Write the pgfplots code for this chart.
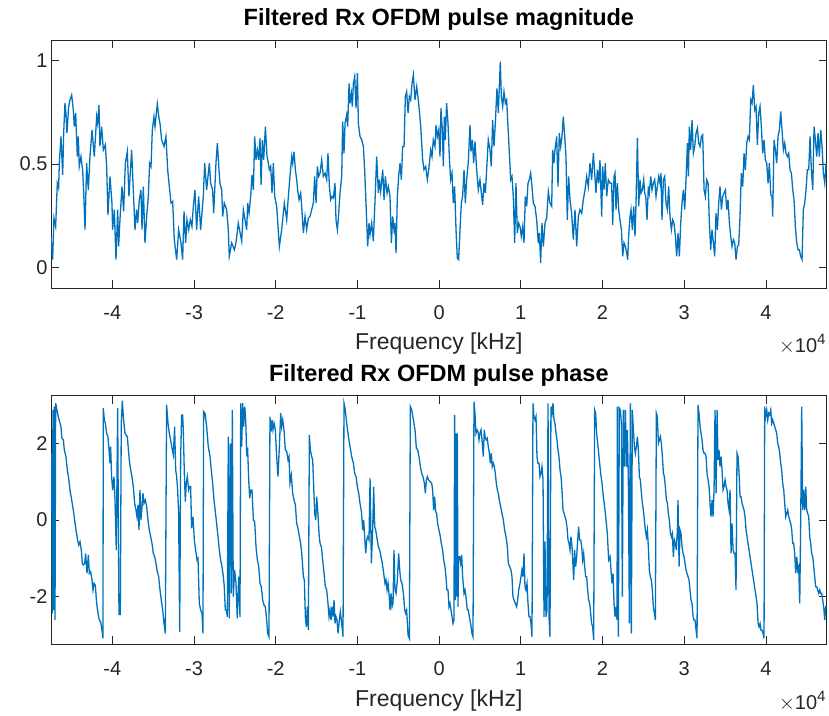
\documentclass[border=0pt]{standalone}
\usepackage{pgfplots}
\pgfplotsset{compat=1.18}
\usepackage{fontspec}
\setmainfont{Liberation Sans}
\definecolor{mblue}{RGB}{0,114,189}
\definecolor{axgray}{RGB}{38,38,38}
\begin{document}
\begin{tikzpicture}
\useasboundingbox (0,0) rectangle (829pt,715pt);
\pgfplotsset{
  mystyle/.style={
    scale only axis, width=775.7pt,
    xmin=-47500, xmax=47440,
    xtick={-40000,-30000,-20000,-10000,0,10000,20000,30000,40000},
    xticklabels={-4,-3,-2,-1,0,1,2,3,4},
    scaled x ticks=false, scaled y ticks=false,
    tick align=inside,
    major tick length=8pt,
    axis line style={axgray, line width=0.7pt},
    every tick/.style={axgray, line width=0.7pt},
    ticklabel style={font=\fontsize{20}{20}\selectfont, text=axgray},
    xticklabel style={anchor=base, yshift=-31.5pt},
    xlabel={Frequency [kHz]},
    xlabel style={font=\fontsize{23}{23}\selectfont, text=axgray, at={(rel axis cs:0.5,0)}, anchor=base, yshift=-62pt},
    title style={font=\bfseries\fontsize{23.5}{23.5}\selectfont, at={(rel axis cs:0.5,1)}, anchor=base, yshift=8.3pt},
    clip=true,
    after end axis/.code={\node[anchor=base east, text=axgray, font=\fontsize{20}{20}\selectfont, inner sep=0pt] at (rel axis cs:1,0) [yshift=-65pt, xshift=-1pt] {$\times$10\raisebox{8pt}{\fontsize{15}{15}\selectfont 4}};},
  }
}
\begin{axis}[mystyle, at={(51pt,427pt)}, anchor=south west, height=248pt,
  ymin=-0.1, ymax=1.1, ytick={0,0.5,1}, yticklabels={0,0.5,1},
  title={Filtered Rx OFDM pulse magnitude}]
\addplot[mblue, line width=1.3pt, mark=none] coordinates {
(-47500,0.150) (-47300,0.037) (-47140,0.238) (-46930,0.198) (-46730,0.407) (-46570,0.383) (-46480,0.504) (-46280,0.633) (-46070,0.448) (-45950,0.649) (-45790,0.794) (-45670,0.746) (-45550,0.649) (-45340,0.778) (-45180,0.810) (-44970,0.834) (-44770,0.762) (-44650,0.681) (-44480,0.746) (-44280,0.536) (-44160,0.633) (-44040,0.488) (-43830,0.536) (-43630,0.472) (-43510,0.375) (-43340,0.182) (-43140,0.504) (-42930,0.375) (-42730,0.536) (-42480,0.665) (-42200,0.536) (-41910,0.729) (-41790,0.697) (-41630,0.786) (-41510,0.585) (-41300,0.681) (-41100,0.568) (-40850,0.593) (-40690,0.488) (-40530,0.254) (-40280,0.440) (-40040,0.311) (-39960,0.182) (-39750,0.279) (-39550,0.037) (-39340,0.279) (-39220,0.101) (-39060,0.230) (-38810,0.391) (-38610,0.271) (-38400,0.504) (-38160,0.560) (-37960,0.343) (-37630,0.568) (-37430,0.375) (-37220,0.182) (-37020,0.279) (-36890,0.214) (-36690,0.327) (-36490,0.375) (-36360,0.182) (-36200,0.391) (-36000,0.118) (-35790,0.246) (-35590,0.343) (-35430,0.504) (-35260,0.488) (-35100,0.665) (-34900,0.729) (-34770,0.681) (-34490,0.791) (-34280,0.721) (-34160,0.697) (-33960,0.617) (-33670,0.585) (-33430,0.633) (-33220,0.472) (-33020,0.391) (-32810,0.311) (-32610,0.319) (-32410,0.134) (-32120,0.037) (-31880,0.182) (-31590,0.118) (-31390,0.037) (-31220,0.271) (-31020,0.118) (-30860,0.230) (-30650,0.182) (-30450,0.230) (-30250,0.198) (-30080,0.295) (-29880,0.375) (-29680,0.182) (-29430,0.343) (-29180,0.182) (-28860,0.343) (-28690,0.504) (-28450,0.375) (-28120,0.504) (-27960,0.407) (-27720,0.375) (-27590,0.262) (-27310,0.504) (-27140,0.601) (-26940,0.472) (-26820,0.407) (-26610,0.375) (-26490,0.246) (-26290,0.311) (-26000,0.279) (-25800,0.182) (-25680,0.053) (-25390,0.118) (-25060,0.085) (-24860,0.118) (-24580,0.214)
(-24160,0.126) (-23960,0.279) (-23750,0.230) (-23550,0.182) (-23430,0.311) (-23260,0.262) (-23060,0.343) (-22900,0.448) (-22730,0.375) (-22570,0.633) (-22410,0.520) (-22240,0.568) (-22080,0.520) (-21920,0.625) (-21790,0.399) (-21630,0.617) (-21470,0.520) (-21260,0.681) (-21060,0.536) (-20900,0.504) (-20780,0.472) (-20610,0.488) (-20450,0.359) (-20290,0.504) (-20120,0.343) (-19880,0.295) (-19550,0.101) (-19270,0.182) (-18940,0.311) (-18650,0.230) (-18450,0.343) (-18250,0.440) (-18040,0.536) (-17920,0.504) (-17760,0.560) (-17590,0.472) (-17430,0.424) (-17310,0.375) (-17140,0.327) (-16940,0.359) (-16820,0.295) (-16610,0.166) (-16410,0.246) (-16210,0.182) (-16000,0.238) (-15800,0.246) (-15590,0.279) (-15390,0.311) (-15230,0.440) (-15060,0.311) (-14900,0.488) (-14740,0.440) (-14570,0.456) (-14370,0.520) (-14170,0.440) (-13960,0.456) (-13760,0.424) (-13600,0.552) (-13430,0.391) (-13270,0.327) (-13110,0.343) (-12940,0.335) (-12740,0.407) (-12620,0.230) (-12450,0.182) (-12330,0.238) (-12130,0.359) (-11920,0.440) (-11800,0.705) (-11640,0.552) (-11510,0.697) (-11310,0.738) (-11190,0.681) (-11020,0.890) (-10900,0.794) (-10740,0.842) (-10620,0.778) (-10490,0.890) (-10330,0.923) (-10170,0.770) (-10000,0.939) (-9880,0.697) (-9680,0.633) (-9470,0.617) (-9270,0.585) (-9110,0.472) (-8860,0.222) (-8740,0.101) (-8580,0.214) (-8450,0.158) (-8250,0.214) (-8050,0.126) (-7840,0.327) (-7640,0.536) (-7430,0.359) (-7310,0.424) (-7150,0.367) (-6900,0.472) (-6740,0.327) (-6580,0.440) (-6370,0.359) (-6210,0.391) (-6010,0.343) (-5840,0.118) (-5680,0.246) (-5520,0.182) (-5400,0.214) (-5270,0.069) (-5110,0.343) (-4950,0.440) (-4780,0.504) (-4620,0.424) (-4460,0.585) (-4290,0.585) (-4130,0.826) (-3970,0.850) (-3800,0.746) (-3640,0.826) (-3480,0.810) (-3310,0.890) (-3150,0.931) (-2950,0.810) (-2740,0.874) (-2500,0.794) (-2250,0.681) (-2010,0.520) (-1850,0.472) (-1640,0.488) (-1440,0.424) (-1270,0.472)
(-1030,0.568) (-870,0.536) (-710,0.617) (-500,0.585) (-380,0.689) (-220,0.633) (-50,0.665) (110,0.536) (230,0.770) (390,0.665) (520,0.488) (640,0.729) (760,0.617) (920,0.794) (1090,0.697) (1250,0.536) (1410,0.424) (1580,0.456) (1740,0.311) (1900,0.391) (2070,0.182) (2230,0.045) (2390,0.037) (2560,0.182) (2720,0.311) (2880,0.343) (3050,0.472) (3210,0.311) (3370,0.424) (3580,0.512) (3780,0.689) (3900,0.560) (4070,0.617) (4230,0.504) (4390,0.609) (4600,0.472) (4800,0.375) (5000,0.424) (5170,0.359) (5330,0.303) (5490,0.407) (5660,0.359) (5820,0.472) (6020,0.617) (6230,0.568) (6390,0.488) (6550,0.713) (6720,0.585) (6880,0.697) (7080,0.866) (7250,0.746) (7370,0.874) (7490,0.995) (7620,0.826) (7780,0.778) (7940,0.850) (8110,0.794) (8270,0.810) (8430,0.681) (8600,0.552) (8760,0.424) (8920,0.440) (9080,0.343) (9250,0.118) (9410,0.407) (9570,0.166) (9740,0.214) (9900,0.198) (10060,0.150) (10230,0.198) (10390,0.118) (10550,0.343) (10720,0.295) (10880,0.407) (11040,0.424) (11210,0.456) (11370,0.391) (11530,0.311) (11740,0.295) (11940,0.230) (12140,0.118) (12270,0.166) (12430,0.021) (12590,0.214) (12760,0.101) (12960,0.214) (13160,0.238) (13370,0.367) (13570,0.311) (13780,0.295) (13900,0.568) (14060,0.504) (14180,0.568) (14390,0.633) (14550,0.391) (14710,0.649) (14880,0.585) (15040,0.633) (15200,0.729) (15370,0.633) (15530,0.536) (15690,0.230) (15860,0.440) (16020,0.327) (16220,0.262) (16430,0.134) (16630,0.279) (16840,0.101) (17040,0.246) (17240,0.279) (17450,0.262) (17650,0.327) (17860,0.375) (18060,0.440) (18260,0.391) (18470,0.504) (18670,0.424) (18880,0.552) (19040,0.456) (19200,0.359) (19370,0.472) (19530,0.407) (19690,0.520) (19900,0.246) (20020,0.488) (20180,0.375) (20340,0.504) (20510,0.343) (20710,0.424)
(20920,0.407) (21120,0.407) (21250,0.206) (21410,0.440) (21530,0.456) (21650,0.279) (21820,0.407) (21980,0.279) (22140,0.230) (22310,0.182) (22470,0.053) (22630,0.118) (22800,0.101) (22960,0.069) (23080,0.037) (23200,0.150) (23370,0.246) (23490,0.279) (23650,0.182) (23820,0.295) (23980,0.150) (24100,0.311) (24270,0.625) (24430,0.295) (24590,0.424) (24710,0.359) (24880,0.375) (25040,0.424) (25160,0.359) (25290,0.343) (25450,0.230) (25610,0.391) (25730,0.359) (25900,0.440) (26060,0.375) (26220,0.407) (26390,0.424) (26550,0.343) (26710,0.391) (26880,0.440) (27040,0.407) (27160,0.456) (27280,0.230) (27450,0.424) (27610,0.440) (27770,0.311) (27940,0.279) (28100,0.391) (28260,0.246) (28430,0.182) (28590,0.230) (28750,0.214) (28920,0.150) (29080,0.053) (29240,0.166) (29410,0.053) (29570,0.214) (29730,0.311) (29900,0.375) (30060,0.279) (30220,0.424) (30390,0.601) (30510,0.440) (30630,0.681) (30790,0.568) (30960,0.713) (31120,0.552) (31280,0.585) (31450,0.649) (31610,0.673) (31770,0.601) (31940,0.585) (32100,0.633) (32260,0.641) (32430,0.375) (32590,0.343) (32750,0.424) (32920,0.407) (33080,0.214) (33240,0.085) (33400,0.182) (33570,0.118) (33730,0.053) (33890,0.262) (34060,0.182) (34220,0.311) (34380,0.391) (34550,0.279) (34710,0.343) (34870,0.359) (35040,0.375) (35200,0.279) (35360,0.327) (35530,0.214) (35690,0.150) (35850,0.101) (36020,0.134) (36180,0.118) (36340,0.037) (36510,0.101) (36670,0.109) (36830,0.246) (36990,0.456) (37160,0.391) (37320,0.552) (37480,0.472) (37650,0.601) (37810,0.633) (37970,0.617) (38140,0.810) (38300,0.794) (38460,0.882) (38630,0.762) (38790,0.778) (38950,0.593) (39120,0.746) (39280,0.778) (39440,0.681) (39610,0.552) (39770,0.617) (39930,0.520) (40100,0.504) (40260,0.407) (40420,0.504) (40590,0.351) (40750,0.343) (40830,0.246) (40990,0.617) (41160,0.568) (41320,0.504) (41480,0.633) (41650,0.665) (41810,0.754) (41970,0.665) (42140,0.568) (42300,0.601) (42460,0.552) (42630,0.536) (42790,0.552) (42950,0.472) (43120,0.456) (43280,0.375) (43440,0.327) (43600,0.198) (43770,0.118) (43930,0.085) (44090,0.085) (44260,0.053) (44420,0.037) (44580,0.279) (44750,0.311) (44910,0.375) (45070,0.472) (45240,0.472) (45400,0.633) (45560,0.472) (45730,0.375) (45890,0.681) (46050,0.617) (46220,0.536) (46380,0.649) (46540,0.536) (46710,0.665) (46870,0.585) (47030,0.456) (47200,0.407) (47360,0.504) (47440,0.472)
};
\end{axis}
\begin{axis}[mystyle, at={(51pt,70.7pt)}, anchor=south west, height=248.6pt,
  ymin=-3.24, ymax=3.24, ytick={-2,0,2}, yticklabels={-2,0,2},
  title={Filtered Rx OFDM pulse phase}]
\addplot[mblue, line width=1.3pt, mark=none] coordinates {
(-47500,0.957) (-47420,1.739) (-47340,-2.435) (-47260,2.870) (-47180,-2.348) (-47100,2.957) (-47010,-2.609) (-46930,3.043) (-46810,2.913) (-46610,2.696) (-46400,2.522) (-46280,2.435) (-46160,2.130) (-45990,2.087) (-45870,1.826) (-45670,1.652) (-45500,1.304) (-45340,1.087) (-45180,0.783) (-44970,0.522) (-44770,0.261) (-44610,0) (-44440,-0.261) (-44280,-0.478) (-44120,-0.652) (-43950,-0.565) (-43790,-0.783) (-43670,-1.130) (-43550,-1.174) (-43380,-1.130) (-43260,-0.870) (-43100,-1.391) (-42930,-0.913) (-42810,-1.391) (-42650,-1.348) (-42480,-1.565) (-42360,-1.826) (-42240,-1.652) (-42080,-1.696) (-41910,-2.174) (-41750,-2.435) (-41590,-2.609) (-41420,-2.652) (-41260,-2.870) (-41140,-3.087) (-41100,2.913) (-40970,2.609) (-40850,2.522) (-40690,2.261) (-40530,2.174) (-40400,1.826) (-40280,1.478) (-40200,1.913) (-40080,1.130) (-39960,0.783) (-39790,1.130) (-39670,0.522) (-39510,-0.783) (-39340,2.913) (-39260,0.087) (-39180,-2.478) (-39100,-1.913) (-39020,-2.478) (-38900,2.522) (-38770,3.113) (-38650,2.696) (-38450,2.261) (-38320,2.217) (-38160,2.174) (-38040,1.870) (-37920,1.565) (-37750,1.304) (-37590,1.130) (-37430,0.870) (-37260,0.435) (-37100,0.261) (-36980,0.087) (-36850,0.391) (-36730,-0.261) (-36610,0.783) (-36490,0) (-36360,0.348) (-36240,0.696) (-36120,0.435) (-35960,0.522) (-35790,0.348) (-35630,0) (-35470,-0.261) (-35300,-0.435) (-35140,-0.609) (-34980,-0.870) (-34810,-0.957) (-34650,-1.130) (-34490,-1.348) (-34320,-1.478) (-34160,-1.826) (-34000,-2.087) (-33830,-2.348) (-33670,-2.696) (-33510,-2.957) (-33350,3.000) (-33180,2.522) (-33020,2.261) (-32860,2.087) (-32690,1.870) (-32530,1.696) (-32370,2.435) (-32240,1.304) (-32120,1.130) (-32000,0.783) (-31880,0.174) (-31750,-2.913) (-31630,1.652) (-31510,2.739) (-31390,2.739) (-31310,2.348) (-31180,1.217) (-31060,0.478) (-30940,0.957) (-30820,1.130) (-30650,0.783) (-30530,0.870) (-30410,0.870) (-30290,-0.217) (-30120,0.087) (-29960,-0.522) (-29800,-0.783) (-29630,-1.043) (-29510,-1.000) (-29350,-2.174) (-29180,-2.348) (-29020,-2.435) (-28900,-2.957) (-28820,2.826) (-28650,2.783) (-28450,2.435) (-28250,1.913) (-28040,1.652) (-27880,1.304) (-27720,0.957) (-27550,0.522) (-27390,0.217) (-27230,-0.087) (-27060,-0.435) (-26900,-0.783) (-26740,-1.043) (-26570,-1.217) (-26410,-1.478) (-26290,-1.739) (-26170,-2.348) (-26040,-2.348) (-25920,-2.522) (-25800,2.174) (-25680,-2.565) (-25550,2.000) (-25430,-1.913) (-25310,2.870) (-25190,-2.000) (-25020,-1.304) (-24860,-1.652) (-24700,-2.565) (-24530,-1.478)
(-24370,-2.522) (-24280,3.043) (-24160,1.913) (-24040,3.043) (-23920,2.435) (-23790,2.957) (-23670,2.609) (-23550,1.739) (-23430,1.826) (-23300,1.043) (-23180,0.565) (-23060,0.783) (-22900,0.783) (-22730,0) (-22570,-0.043) (-22410,-0.696) (-22240,-1.043) (-22080,-1.217) (-21920,-1.652) (-21760,-1.739) (-21590,-2.087) (-21430,-2.217) (-21270,-2.261) (-21100,-2.609) (-20980,-2.957) (-20820,-3.043) (-20700,2.696) (-20570,2.304) (-20450,2.609) (-20330,2.348) (-20200,2.522) (-20040,2.348) (-19880,1.652) (-19720,1.130) (-19550,1.913) (-19390,2.783) (-19270,2.435) (-19140,2.609) (-18980,2.348) (-18820,1.826) (-18650,1.783) (-18490,1.565) (-18370,1.652) (-18250,0.957) (-18080,1.174) (-17920,0.696) (-17760,0.522) (-17590,0.391) (-17430,-0.087) (-17270,-0.217) (-17100,-0.435) (-16940,-0.609) (-16780,-0.957) (-16610,-1.478) (-16490,-1.565) (-16370,-2.522) (-16250,-2.783) (-16130,-2.261) (-16000,-2.870) (-15880,2.217) (-15760,1.826) (-15590,1.652) (-15470,1.565) (-15350,0.870) (-15230,0.174) (-15100,0) (-14980,0.609) (-14860,0.261) (-14700,-0.348) (-14570,-0.609) (-14410,-0.696) (-14250,-1.043) (-14080,-1.391) (-13920,-1.739) (-13760,-1.826) (-13600,-2.174) (-13470,-2.522) (-13350,-2.348) (-13230,-2.609) (-13110,-2.261) (-12980,-2.522) (-12860,-2.087) (-12740,-2.696) (-12620,-2.522) (-12490,-2.609) (-12370,-2.957) (-12210,-2.609) (-12090,-2.391) (-11920,-2.696) (-11760,-3.043) (-11640,3.043) (-11510,2.913) (-11310,2.522) (-11100,2.174) (-10900,1.913) (-10700,1.652) (-10490,1.478) (-10330,1.217) (-10170,1.130) (-10000,0.870) (-9840,0.696) (-9680,0.435) (-9510,0.217) (-9350,-0.261) (-9230,0) (-9110,-0.435) (-8980,-0.870) (-8860,-0.522) (-8740,-0.435) (-8580,-0.522) (-8450,1.087) (-8290,-1.130) (-8130,-0.261) (-8010,0.870) (-7880,-0.174) (-7760,-0.261) (-7600,-0.478) (-7430,-0.696) (-7270,-0.783) (-7110,-0.957) (-6950,-1.130) (-6780,-1.391) (-6620,-1.652) (-6500,-1.565) (-6370,-1.826) (-6250,-1.652) (-6130,-1.913) (-6010,-2.348) (-5880,-1.913) (-5760,-2.261) (-5640,-2.174) (-5520,-0.783) (-5400,-1.826) (-5270,-1.913) (-5110,-1.565) (-4950,-0.870) (-4820,-1.304) (-4700,-1.565) (-4540,-1.652) (-4370,-1.913) (-4210,-2.348) (-4090,-2.435) (-3970,-2.348) (-3800,-3.000) (-3640,-3.087) (-3520,2.957) (-3350,2.870) (-3150,2.609) (-2950,2.348) (-2780,1.870) (-2620,1.826) (-2460,1.652) (-2290,1.391) (-2130,1.217) (-1970,1.130) (-1800,0.957) (-1680,0.696) (-1560,1.043) (-1440,1.130) (-1270,1.043)
(-1080,1.000) (-910,0.957) (-790,0.783) (-670,0.261) (-550,0.609) (-420,0.217) (-300,0.174) (-180,-0.087) (-15,-0.261) (150,-0.435) (270,-0.609) (430,-0.783) (560,-1.043) (720,-1.217) (840,-1.478) (960,-1.826) (1090,-1.826) (1210,-2.261) (1330,-2.174) (1450,-2.348) (1580,-2.522) (1700,-2.696) (1820,-2.609) (1900,2.739) (1980,-2.087) (2070,2.261) (2150,-2.000) (2230,2.261) (2310,-2.261) (2390,-0.957) (2520,-0.957) (2640,-1.130) (2760,-0.913) (2880,-1.478) (3050,-1.913) (3170,-1.826) (3290,-2.000) (3450,-2.348) (3580,-2.348) (3700,-2.522) (3860,-2.696) (4020,-2.957) (4150,-3.043) (4270,3.087) (4390,2.783) (4510,2.261) (4640,2.348) (4760,2.304) (4880,2.087) (5000,2.261) (5130,2.348) (5250,2.087) (5410,1.652) (5530,2.348) (5660,2.130) (5780,2.087) (5900,2.130) (6020,1.913) (6150,1.739) (6270,1.478) (6390,1.739) (6510,1.391) (6640,1.478) (6760,1.391) (6880,1.217) (7000,0.957) (7130,0.783) (7250,0.696) (7370,0.522) (7530,0.348) (7700,0.174) (7860,0) (8020,-0.261) (8190,-0.435) (8350,-0.696) (8470,-1.130) (8640,-1.217) (8800,-1.304) (8920,-1.478) (9040,-2.000) (9170,-2.087) (9330,-2.174) (9490,-2.261) (9610,-2.087) (9740,-1.826) (9900,-1.652) (10020,-1.478) (10140,-1.304) (10270,-1.478) (10390,-0.870) (10510,-1.739) (10630,-1.826) (10760,-1.652) (10880,-2.174) (11000,-2.522) (11120,-2.522) (11250,-2.696) (11370,-3.043) (11490,3.043) (11610,2.696) (11740,2.609) (11860,2.696) (11980,1.652) (12100,1.478) (12230,1.478) (12350,1.130) (12470,1.217) (12590,1.391) (12720,1.043) (12840,-2.522) (12960,-0.565) (13080,-2.522) (13210,-2.348) (13330,3.043) (13450,-2.522) (13570,-3.043) (13690,2.957) (13820,2.783) (13940,3.043) (14060,2.609) (14180,2.522) (14310,2.261) (14430,2.087) (14550,1.826) (14670,1.652) (14800,1.304) (14920,1.130) (15040,0.783) (15160,0.261) (15290,0.174) (15410,0.087) (15530,0) (15650,-0.174) (15780,-0.522) (15900,-0.609) (16020,-0.783) (16140,-0.435) (16270,-0.696) (16390,-1.217) (16470,-1.565) (16590,-0.783) (16710,-1.217) (16840,-0.957) (16960,-0.522) (17080,-0.174) (17200,-0.522) (17330,-0.522) (17450,-0.696) (17570,-1.043) (17690,-0.870) (17820,-1.217) (17940,-1.478) (18060,-1.478) (18180,-1.826) (18310,-2.087) (18430,-2.174) (18550,-2.435) (18670,-2.696) (18790,-2.783) (18920,-3.130) (19040,2.870) (19160,2.783) (19280,2.261) (19450,1.913) (19610,1.565) (19770,1.217) (19940,0.957) (20100,0.609) (20260,0.348) (20430,0) (20590,-0.348) (20750,-1.043)
(20920,-0.957) (21040,-1.304) (21160,-1.652) (21290,-1.391) (21410,-2.174) (21530,-2.522) (21650,-2.261) (21780,-2.609) (21820,2.957) (21940,-3.043) (22060,2.913) (22180,2.870) (22310,2.522) (22430,-2.000) (22550,2.870) (22670,1.391) (22800,2.870) (22920,1.391) (23040,2.348) (23160,1.130) (23290,-2.696) (23410,3.043) (23530,-2.957) (23650,2.870) (23780,2.348) (23900,1.913) (24020,1.739) (24140,1.913) (24270,2.174) (24390,1.826) (24510,1.130) (24630,1.043) (24760,0.696) (24880,0.435) (25000,0.261) (25120,0) (25240,-0.261) (25370,-0.435) (25490,-0.261) (25610,-0.696) (25730,-1.304) (25860,-1.478) (25980,-1.565) (26100,-1.826) (26220,-2.261) (26350,-2.435) (26470,-2.609) (26590,2.783) (26710,2.696) (26840,2.000) (26960,2.087) (27080,2.174) (27200,2.000) (27330,1.652) (27450,1.217) (27570,1.130) (27690,0.870) (27820,0.522) (27940,0.435) (28060,0.174) (28180,0) (28310,-0.348) (28430,-0.435) (28550,-0.348) (28670,-0.957) (28800,-0.522) (28920,-0.609) (29040,-0.783) (29160,-0.261) (29240,0.522) (29370,-1.217) (29490,-0.261) (29610,-0.348) (29730,-0.696) (29860,-0.870) (29980,-0.957) (30100,-1.130) (30220,-1.304) (30340,-1.391) (30470,-1.478) (30590,-1.565) (30710,-1.826) (30830,-2.087) (30960,-2.174) (31080,-2.522) (31200,-2.609) (31320,-2.609) (31450,-2.870) (31570,-3.087) (31690,3.000) (31810,2.783) (31940,2.435) (32060,2.261) (32180,2.087) (32300,1.826) (32430,1.739) (32550,1.739) (32670,1.652) (32790,1.217) (32920,1.043) (33040,0.870) (33160,0.435) (33280,0.087) (33410,0.522) (33530,0.087) (33650,0.783) (33770,2.870) (33900,0.696) (34020,2.870) (34140,1.565) (34260,1.826) (34380,1.391) (34510,1.652) (34630,1.304) (34750,0.783) (34870,0.870) (35000,1.043) (35120,0.870) (35240,0.783) (35360,0.435) (35490,0.261) (35610,0.783) (35730,-0.870) (35850,-0.087) (35980,-0.783) (36100,-0.870) (36220,-0.870) (36340,-1.826) (36460,1.739) (36590,1.652) (36710,1.217) (36830,0.609) (36950,0.609) (37080,0.435) (37200,0.348) (37320,0.261) (37440,0.087) (37570,-0.261) (37690,-0.435) (37810,-0.609) (37930,-0.783) (38060,-0.957) (38180,-1.130) (38300,-1.304) (38420,-1.478) (38550,-1.652) (38670,-1.826) (38790,-2.000) (38910,-2.174) (39040,-2.696) (39160,-2.783) (39280,-2.696) (39400,-2.870) (39520,-2.870) (39650,-2.957) (39770,-3.087) (39850,2.957) (39970,2.696) (40100,2.870) (40220,2.609) (40340,2.783) (40460,2.739) (40590,2.870) (40710,2.522) (40830,2.609) (40950,2.522) (41080,2.435) (41200,2.348) (41320,2.261) (41440,2.000) (41560,1.913) (41690,1.739) (41810,1.478) (41930,1.304) (42050,0.957) (42180,0.783) (42300,0.435) (42420,0.087) (42540,0.174) (42670,0.261) (42790,0.087) (42910,0) (43030,-0.087) (43160,-0.261) (43280,-0.609) (43400,-0.609) (43520,-0.870) (43650,-1.391) (43770,-0.957) (43890,-1.304) (44010,-1.217) (44140,-2.174) (44260,0.087) (44380,2.957) (44500,0.261) (44620,0.783) (44750,0.261) (44870,0.870) (44990,0.261) (45110,0.174) (45240,0.087) (45360,-0.435) (45480,-0.609) (45600,-0.870) (45730,-0.957) (45850,-1.217) (45970,-1.478) (46090,-1.739) (46220,-1.739) (46340,-1.826) (46460,-1.913) (46580,-1.826) (46710,-1.913) (46830,-1.913) (46950,-2.087) (47070,-2.261) (47200,-2.609) (47320,-2.261) (47440,-2.261)
};
\end{axis}
\end{tikzpicture}
\end{document}
